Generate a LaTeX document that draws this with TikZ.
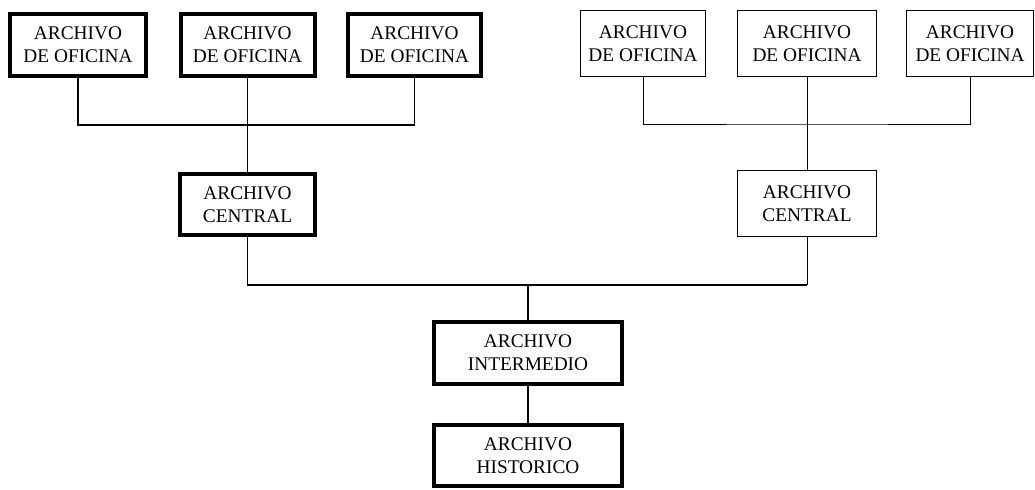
\documentclass[tikz,border=0pt]{standalone}
\usepackage{fontspec}
\setmainfont{Liberation Serif}
\begin{document}
\begin{tikzpicture}[x=0.75pt,y=-0.75pt,
  boxbase/.style={rectangle,inner sep=0pt,align=center,font=\fontsize{14.5}{17.25}\selectfont},
  thickbox/.style={boxbase,draw,line width=3pt},
  thinbox/.style={boxbase,draw,line width=0.8pt},
  lconn/.style={line width=1.4pt},
  rconn/.style={line width=0.6pt},
  mconn/.style={line width=1.2pt}]
\useasboundingbox (0,0) rectangle (1035,489);
% left office archives
\node[thickbox,minimum width=102pt,minimum height=46.5pt] (b1) at (78,45) {ARCHIVO\\DE OFICINA};
\node[thickbox,minimum width=100.5pt,minimum height=46.5pt] (b2) at (247.5,45) {ARCHIVO\\DE OFICINA};
\node[thickbox,minimum width=99.75pt,minimum height=46.5pt] (b3) at (414.5,45) {ARCHIVO\\DE OFICINA};
% right office archives
\node[thinbox,minimum width=93.7pt,minimum height=49.45pt] (b4) at (643,43.5) {ARCHIVO\\DE OFICINA};
\node[thinbox,minimum width=104.2pt,minimum height=49.45pt] (b5) at (807,43.5) {ARCHIVO\\DE OFICINA};
\node[thinbox,minimum width=95.2pt,minimum height=49.45pt] (b6) at (970,43.5) {ARCHIVO\\DE OFICINA};
% central archives
\node[thickbox,minimum width=101.25pt,minimum height=45.75pt] (c1) at (247.5,204.5) {ARCHIVO\\CENTRAL};
\node[thinbox,minimum width=104.2pt,minimum height=49.45pt] (c2) at (807,203.5) {ARCHIVO\\CENTRAL};
% intermediate and historic
\node[thickbox,minimum width=141pt,minimum height=46.5pt] (i) at (528,353) {ARCHIVO\\INTERMEDIO};
\node[thickbox,minimum width=141pt,minimum height=45.75pt] (h) at (528,455.5) {ARCHIVO\\HISTORICO};
% junctions
\coordinate (jl) at (247.5,125);
\coordinate (jr) at (807,124);
\coordinate (jm) at (528,285);
% connectors
\draw[lconn] (b1.south) |- (jl) -| (b3.south);
\draw[lconn] (b2.south) -- (c1.north);
\draw[rconn] (b4.south) |- (jr) -| (b6.south);
\draw[rconn] (b5.south) -- (c2.north);
\draw[mconn] (c1.south) |- (jm);
\draw[rconn] (c2.south) -- (c2.south |- jm);
\draw[mconn] (jm) -- (c2.south |- jm);
\draw[mconn] (jm) -- (i.north);
\draw[mconn] (i.south) -- (h.north);
\end{tikzpicture}
\end{document}
